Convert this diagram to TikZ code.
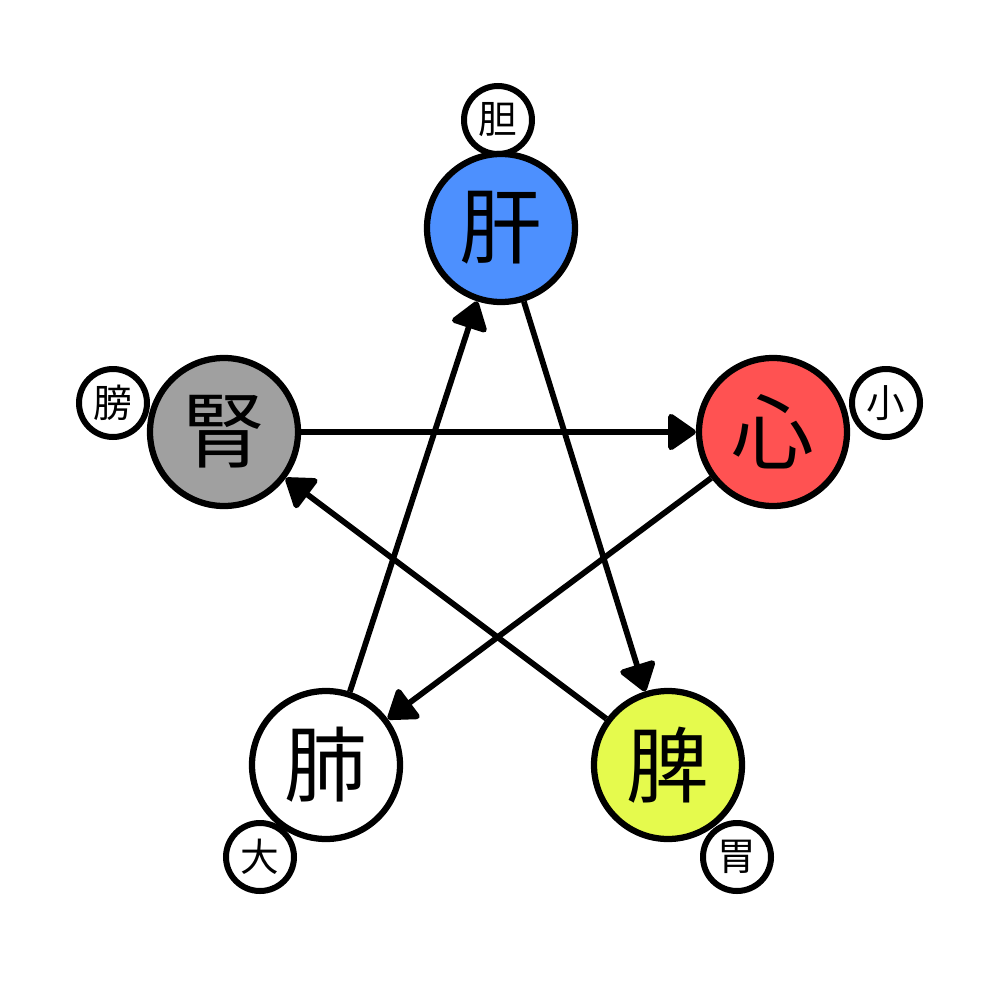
\documentclass[tikz,border=0pt]{standalone}
\usepackage{fontspec}
\setmainfont{Noto Sans CJK JP}
\usetikzlibrary{arrows.meta}
\definecolor{GanBlue}{RGB}{77,144,254}
\definecolor{XinRed}{RGB}{255,82,82}
\definecolor{PiYellow}{RGB}{229,250,77}
\definecolor{ShenGray}{RGB}{160,160,160}

\begin{document}
\begin{tikzpicture}[x=0.2mm, y=-0.2mm,
  organ/.style={circle, draw=black, line width=1.25mm, minimum size=29.6mm, inner sep=0pt, font=\fontsize{47pt}{47pt}\selectfont},
  fu/.style={circle, draw=black, fill=white, line width=1.2mm, minimum size=13.6mm, inner sep=0pt, font=\fontsize{22pt}{22pt}\selectfont},
  ke/.style={line width=1.15mm, -{Triangle[length=6mm, width=8mm, round]}}]
\useasboundingbox[fill=white] (0,0) rectangle (1000,1000); % page

\node[fu] (dan) at (498,120) {胆}; % small circles
\node[fu] (xiao) at (886,403) {小};
\node[fu] (wei) at (737,857) {胃};
\node[fu] (da) at (260,857) {大};
\node[fu] (pang) at (113,403) {膀};

\node[organ, fill=GanBlue] (gan) at (501,228) {肝}; % big circles
\node[organ, fill=XinRed] (xin) at (773,432) {心};
\node[organ, fill=PiYellow] (pi) at (668,765) {脾};
\node[organ, fill=white] (fei) at (326,765) {肺};
\node[organ, fill=ShenGray] (shen) at (224,432) {腎};

\draw[ke] (gan) -- (pi); % star
\draw[ke] (pi) -- (shen);
\draw[ke] (shen) -- (xin);
\draw[ke] (xin) -- (fei);
\draw[ke] (fei) -- (gan);

\end{tikzpicture}
\end{document}
